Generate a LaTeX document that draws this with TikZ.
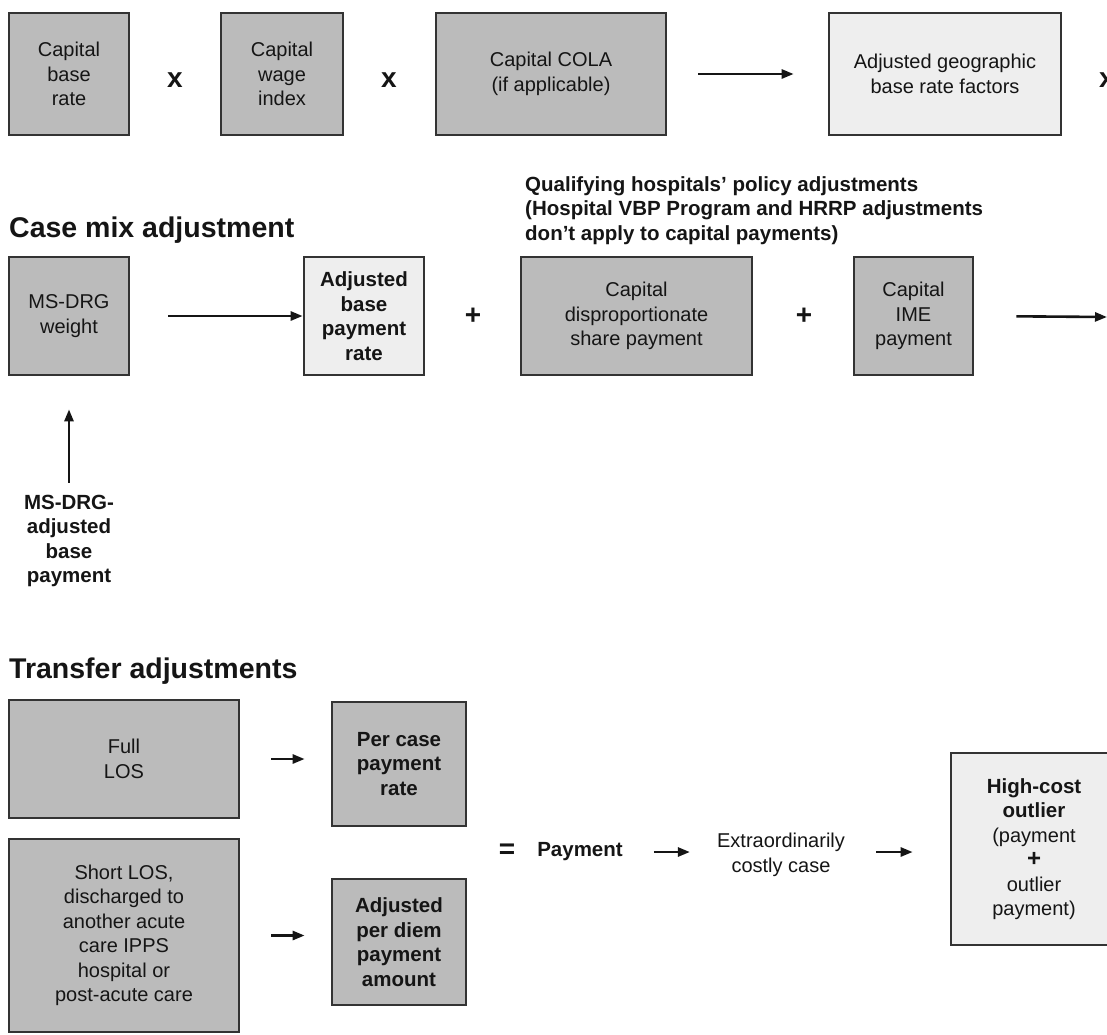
\documentclass[tikz,border=0pt]{standalone}
\usepackage{fontspec}
\setmainfont{Liberation Sans}
\usetikzlibrary{arrows.meta}
\definecolor{boxgray}{HTML}{BBBBBB}
\definecolor{boxlight}{HTML}{EEEEEE}
\definecolor{edgec}{HTML}{333333}
\definecolor{ink}{HTML}{151515}
\newcommand\fnorm{\fontsize{20}{24.5}\selectfont}
\newcommand\fbold{\fontsize{20.5}{24.5}\selectfont\bfseries}
\newcommand\fhead{\fontsize{28.5}{34}\selectfont\bfseries}
\newcommand\fop{\fontsize{28}{30}\selectfont\bfseries}
\tikzset{
  gbox/.style={draw=edgec, line width=2.7pt, fill=boxgray, align=center, inner sep=2pt, text=ink, font=\fnorm},
  lbox/.style={gbox, fill=boxlight},
  bbox/.style={font=\fbold},
  arr/.style={draw=ink, line width=2.6pt, -{Triangle[length=12pt,width=9pt]}},
  op/.style={font=\fop, text=ink, inner sep=0pt},
  plain/.style={font=\fnorm, text=ink, inner sep=0pt, align=center},
  bold/.style={font=\fbold, text=ink, inner sep=0pt, align=center},
  head/.style={font=\fhead, text=ink, inner sep=0pt, anchor=base west}
}
\begin{document}
\begin{tikzpicture}[x=1pt,y=-1pt]
\useasboundingbox (0,0) rectangle (1107,1034);
\fill[white] (0,0) rectangle (1107,1034);
\clip (0,0) rectangle (1107,1034);
% ---------- row 1 ----------
\node[gbox, minimum width=120, minimum height=122] (b1) at (69,74) {Capital\\base\\rate};
\node[op] (x1) at (175,80) {x};
\node[gbox, minimum width=122, minimum height=122] (b2) at (282,74) {Capital\\wage\\index};
\node[op] (x2) at (389,80) {x};
\node[gbox, minimum width=230, minimum height=122] (b3) at (551,74) {Capital COLA\\(if applicable)};
\node[lbox, minimum width=232, minimum height=122] (b4) at (945,74) {Adjusted geographic\\base rate factors};
\node[op] (x3) at (1107,80) {x};
\draw[arr, shorten <=31pt, shorten >=34pt] (b3) -- (b4);
% ---------- row 2 ----------
\node[head] (h1) at (9,237) {Case mix adjustment};
\node[font=\fbold, text=ink, inner sep=0pt, align=left, anchor=north west] (qual) at (525,176)
  {Qualifying hospitals’ policy adjustments\\(Hospital VBP Program and HRRP adjustments\\don’t apply to capital payments)};
\node[gbox, minimum width=120, minimum height=118] (m1) at (69,316) {MS-DRG\\weight};
\node[lbox, bbox, minimum width=120, minimum height=118] (m2) at (364,316) {Adjusted\\base\\payment\\rate};
\node[op] (p1) at (473,316) {+};
\node[gbox, minimum width=231, minimum height=118] (m3) at (636.5,316) {Capital\\disproportionate\\share payment};
\node[op] (p2) at (804,316) {+};
\node[gbox, minimum width=119, minimum height=118] (m4) at (913.5,316) {Capital\\IME\\payment};
\coordinate (rend) at (1107,317);
\draw[arr, shorten <=38pt] (m1.east) -- (m2.west);
\draw[arr, shorten <=42pt] (m4.east) -- (rend);
\node[bold] (lab) at (69,541) {MS-DRG-\\adjusted\\base\\payment};
\draw[arr, shorten <=12pt, shorten >=33pt] (lab.north) -- (m1.south);
% ---------- transfer ----------
\node[head] (h2) at (9,678) {Transfer adjustments};
\node[gbox, minimum width=230, minimum height=118] (t1) at (124,759) {Full\\LOS};
\node[gbox, bbox, minimum width=134, minimum height=124] (t2) at (399,764) {Per case\\payment\\rate};
\node[gbox, minimum width=230, minimum height=193] (t3) at (124,935.5) {Short LOS,\\discharged to\\another acute\\care IPPS\\hospital or\\post-acute care};
\node[gbox, bbox, minimum width=134, minimum height=126] (t4) at (399,942) {Adjusted\\per diem\\payment\\amount};
\draw[arr, shorten <=31pt, shorten >=26pt] (t1.east) -- (t1.east -| t2.west);
\draw[arr, shorten <=31pt, shorten >=26pt] (t3.east) -- (t3.east -| t4.west);
\node[op] (eq) at (507,851) {=};
\node[bold] (pay) at (580,852) {Payment};
\node[plain] (ext) at (781,855) {Extraordinarily\\costly case};
\node[gbox, fill=boxlight, minimum width=166, minimum height=192] (hc) at (1034,849)
  {{\fbold High-cost}\\{\fbold outlier}\\(payment\\{\fop\fontsize{24}{24.5}\selectfont +}\\outlier\\payment)};
\draw[arr, shorten <=31pt, shorten >=27pt] (pay.east) -- (pay.east -| ext.west);
\draw[arr, shorten <=31pt, shorten >=37pt] (pay.east -| ext.east) -- (pay.east -| hc.west);
\end{tikzpicture}
\end{document}
